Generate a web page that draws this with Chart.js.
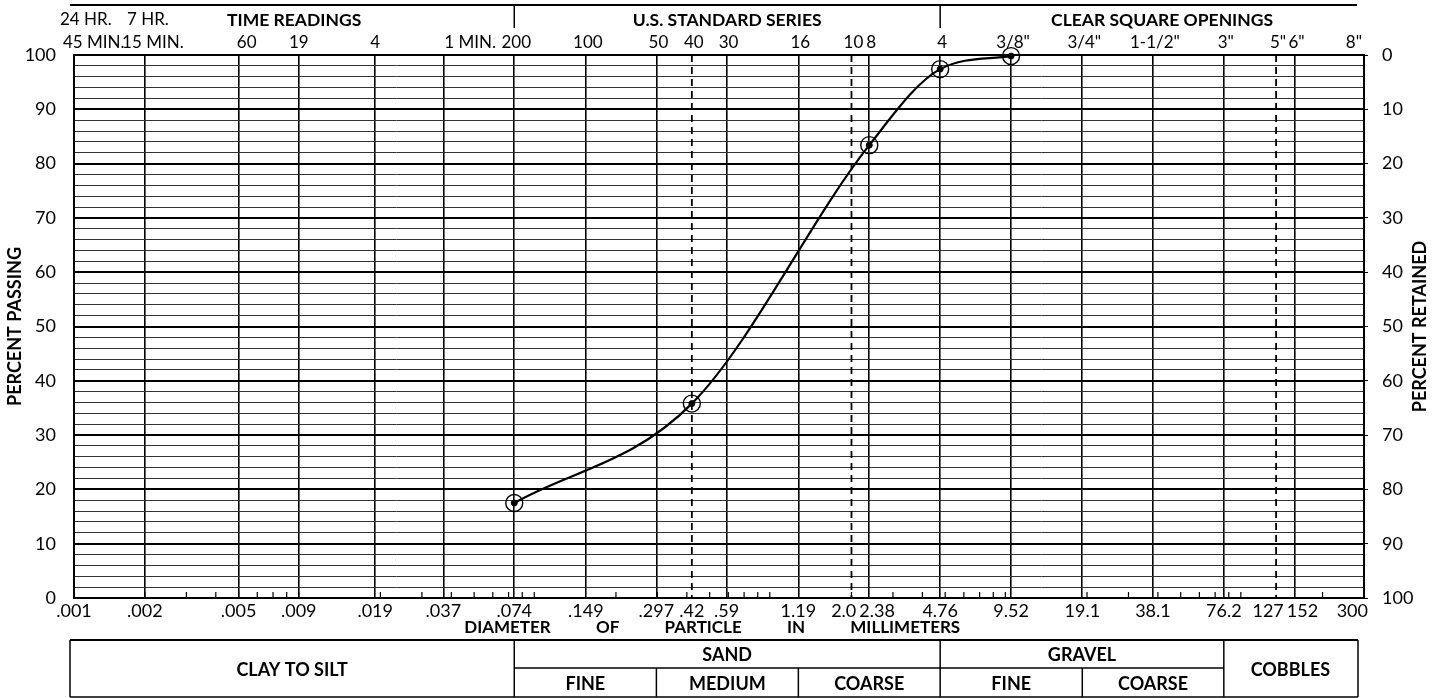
<!DOCTYPE html>
<html lang="en">
<head>
<meta charset="UTF-8">
<title>Grain Size Distribution</title>
<script src="https://cdn.jsdelivr.net/npm/chart.js"></script>
<style>
  html, body { margin: 0; padding: 0; background: #fff; }
  #wrap { width: 1440px; height: 698px; }
</style>
</head>
<body>
<div id="wrap"><canvas id="gradChart"></canvas></div>
<script>
  // bottom axis: sieve openings in mm and how they are printed
  const sieveSizes  = [.001, .002, .005, .009, .019, .037, .074, .149, .297, .42, .59, 1.19, 2.0, 2.38, 4.76, 9.52, 19.1, 38.1, 76.2, 127, 152, 300];
  const sieveLabels = ['.001', '.002', '.005', '.009', '.019', '.037', '.074', '.149', '.297', '.42', '.59', '1.19', '2.0', '2.38', '4.76', '9.52', '19.1', '38.1', '76.2', '127', '152', '300'];
  const dashedSizes = [.42, 2.0, 127];

  // top axis: hydrometer time readings, US sieve numbers, square openings
  const timeSizes    = [.001, .002, .005, .009, .019, .037];
  const timeLabelsHr = ['24 HR.', '7 HR.'];
  const timeLabels   = ['45 MIN.', '15 MIN.', '60', '19', '4', '1 MIN.'];
  const sieveNoSizes  = [.074, .149, .297, .42, .59, 1.19, 2.0, 2.38, 4.76, 9.52, 19.1, 38.1, 76.2, 127, 152, 300];
  const sieveNoLabels = ['200', '100', '50', '40', '30', '16', '10', '8', '4', '3/8"', '3/4"', '1-1/2"', '3"', '5"', '6"', '8"'];

  // soil classes along the bottom (mm bounds)
  const soilBounds = [.074, .297, 1.19, 4.76, 19.1, 76.2];

  // test result
  const grainSize  = [.074, .42, 2.38, 4.76, 9.52];
  const pctPassing = [17.5, 35.8, 83.4, 97.4, 99.8];

  const FONT = 'Lato, "Open Sans", sans-serif';

  const minorTicks = [];
  for (let e = -3; e <= 2; e++) {
    for (let m = 2; m <= 9; m++) {
      const v = m * Math.pow(10, e);
      if (v < 300) minorTicks.push(v);
    }
  }

  function hline(ctx, x1, x2, y) { ctx.beginPath(); ctx.moveTo(x1, y); ctx.lineTo(x2, y); ctx.stroke(); }
  function vline(ctx, x, y1, y2) { ctx.beginPath(); ctx.moveTo(x, y1); ctx.lineTo(x, y2); ctx.stroke(); }
  function text(ctx, s, x, y, align) { ctx.textAlign = align || 'center'; ctx.fillText(s, x, y); }

  const paper = {
    id: 'paper',
    beforeDatasetsDraw(chart) {
      const { ctx, chartArea: a, scales: { x } } = chart;
      ctx.save();
      ctx.strokeStyle = '#000';
      ctx.lineWidth = 1.8;
      ctx.setLineDash([7, 5]);
      dashedSizes.forEach(v => vline(ctx, x.getPixelForValue(v), a.top, a.bottom));
      ctx.setLineDash([]);
      ctx.lineWidth = 1.2;
      minorTicks.forEach(v => {
        const p = x.getPixelForValue(v);
        vline(ctx, p, a.bottom, a.bottom - 6);
      });
      ctx.restore();
    },
    afterDraw(chart) {
      const { ctx, chartArea: a, scales: { x } } = chart;
      const px = v => x.getPixelForValue(v);
      ctx.save();
      ctx.strokeStyle = '#000';
      ctx.fillStyle = '#000';
      ctx.textBaseline = 'middle';

      // frame
      ctx.lineWidth = 2;
      ctx.strokeRect(a.left, a.top, a.right - a.left, a.bottom - a.top);

      // bottom tick labels, nudged apart where they crowd
      ctx.font = '18px ' + FONT;
      const items = sieveSizes.map((v, i) => ({ s: sieveLabels[i], c: px(v), w: ctx.measureText(sieveLabels[i]).width }));
      for (let i = 1; i < items.length; i++) {
        const p = items[i - 1], q = items[i];
        const gap = (q.c - q.w / 2) - (p.c + p.w / 2) - 3;
        if (gap < 0) { p.c += gap / 2; q.c -= gap / 2; }
      }
      const last = items[items.length - 1];
      last.c = Math.min(last.c, a.right + 4 - last.w / 2);
      items.forEach(it => text(ctx, it.s, it.c, a.bottom + 13));

      // axis caption, spread out under the sand range
      ctx.font = 'bold 17px ' + FONT;
      const words = ['DIAMETER', 'OF', 'PARTICLE', 'IN', 'MILLIMETERS'];
      const wl = px(.074) - 50, wr = px(4.76) + 20;
      const widths = words.map(w => ctx.measureText(w).width);
      const gapW = (wr - wl - widths.reduce((s, w) => s + w, 0)) / (words.length - 1);
      let cx = wl;
      words.forEach((w, i) => { text(ctx, w, cx, a.bottom + 30, 'left'); cx += widths[i] + gapW; });

      // side titles
      ctx.font = 'bold 18px ' + FONT;
      const midY = (a.top + a.bottom) / 2;
      [[15, 'PERCENT PASSING'], [1420, 'PERCENT RETAINED']].forEach(([tx, s]) => {
        ctx.save();
        ctx.translate(tx, midY);
        ctx.rotate(-Math.PI / 2);
        text(ctx, s, 0, 0);
        ctx.restore();
      });

      // header
      const L = a.left - 4, R = a.right - 7;
      ctx.lineWidth = 2;
      hline(ctx, L, R, 5);
      ctx.lineWidth = 1.5;
      vline(ctx, px(.074), 5, 28);
      vline(ctx, px(4.76), 5, 28);
      ctx.font = 'bold 17.5px ' + FONT;
      text(ctx, 'TIME READINGS', (a.left + px(.074)) / 2, 20);
      text(ctx, 'U.S. STANDARD SERIES', (px(.074) + px(4.76)) / 2, 20);
      text(ctx, 'CLEAR SQUARE OPENINGS', (px(4.76) + a.right) / 2 + 10, 20);

      ctx.font = '17px ' + FONT;
      text(ctx, timeLabelsHr[0], a.left - 14, 20, 'left');
      text(ctx, timeLabelsHr[1], px(timeSizes[1]) + 3, 20);
      timeLabels.forEach((s, i) => {
        const p = px(timeSizes[i]);
        if (i === 0) text(ctx, s, p - 11, 43, 'left');
        else if (i === 1) text(ctx, s, p + 8, 43);
        else if (i === timeLabels.length - 1) text(ctx, s, p + 1, 43, 'left');
        else text(ctx, s, p + (i === 2 ? 8 : 0), 43);
      });
      sieveNoLabels.forEach((s, i) => {
        const p = px(sieveNoSizes[i]);
        if (i === sieveNoLabels.length - 1) text(ctx, s, p - 2, 43, 'right');
        else text(ctx, s, p + 2, 43);
      });

      // soil classification table
      const T = 640, M = 668, B = 697;
      const b = soilBounds.map(px);
      ctx.lineWidth = 2;
      hline(ctx, L, R + 1, T);
      ctx.lineWidth = 1.5;
      hline(ctx, L, R + 1, B);
      hline(ctx, b[0], b[5], M);
      vline(ctx, L, T, B);
      vline(ctx, R + 1, T, B);
      [b[0], b[3], b[5]].forEach(xx => vline(ctx, xx, T, B));
      [b[1], b[2], b[4]].forEach(xx => vline(ctx, xx, M, B));

      ctx.font = 'bold 18px ' + FONT;
      const rowA = (T + M) / 2 + 1, rowB = (M + B) / 2 + 2, full = (T + B) / 2 + 2;
      text(ctx, 'CLAY TO SILT', (L + b[0]) / 2, full);
      text(ctx, 'SAND', (b[0] + b[3]) / 2, rowA);
      text(ctx, 'GRAVEL', (b[3] + b[5]) / 2, rowA);
      text(ctx, 'COBBLES', (b[5] + R) / 2, full);
      text(ctx, 'FINE', (b[0] + b[1]) / 2, rowB);
      text(ctx, 'MEDIUM', (b[1] + b[2]) / 2, rowB);
      text(ctx, 'COARSE', (b[2] + b[3]) / 2, rowB);
      text(ctx, 'FINE', (b[3] + b[4]) / 2, rowB);
      text(ctx, 'COARSE', (b[4] + b[5]) / 2, rowB);

      ctx.restore();
    }
  };

  const points = grainSize.map((g, i) => ({ x: g, y: pctPassing[i] }));

  new Chart(document.getElementById('gradChart'), {
    type: 'scatter',
    data: {
      datasets: [{
        data: points,
        showLine: true,
        borderColor: '#000',
        borderWidth: 2.2,
        cubicInterpolationMode: 'monotone',
        pointStyle: 'circle',
        pointRadius: 8.5,
        pointBorderWidth: 1.4,
        pointBorderColor: '#000',
        pointBackgroundColor: 'rgba(0,0,0,0)',
        clip: false
      }, {
        data: points,
        showLine: false,
        pointRadius: 3,
        pointBackgroundColor: '#000',
        pointBorderColor: '#000',
        clip: false
      }]
    },
    plugins: [paper],
    options: {
      responsive: true,
      maintainAspectRatio: false,
      animation: false,
      layout: { padding: { top: 55, left: 0, right: 0, bottom: 0 } },
      plugins: { legend: { display: false }, tooltip: { enabled: false } },
      scales: {
        x: {
          type: 'logarithmic',
          min: .001,
          max: 300,
          afterBuildTicks: axis => { axis.ticks = sieveSizes.map(v => ({ value: v })); },
          afterFit: axis => { axis.height = 100; },
          ticks: { display: false, autoSkip: false },
          border: { display: false },
          grid: {
            drawTicks: false,
            lineWidth: 1.6,
            color: c => (c.tick && dashedSizes.includes(c.tick.value)) ? 'rgba(0,0,0,0)' : '#000'
          }
        },
        y: {
          position: 'left',
          min: 0,
          max: 100,
          afterFit: axis => { axis.width = 74; },
          ticks: {
            stepSize: 2,
            autoSkip: false,
            padding: 18,
            color: '#000',
            font: { family: FONT, size: 18 },
            callback: v => (v % 10 === 0 ? v : '')
          },
          border: { display: false },
          grid: {
            drawTicks: false,
            color: c => (c.tick && c.tick.value % 10 === 0) ? '#000' : '#333',
            lineWidth: c => (c.tick && c.tick.value % 10 === 0) ? 2 : 1
          }
        },
        y2: {
          position: 'right',
          reverse: true,
          min: 0,
          max: 100,
          afterFit: axis => { axis.width = 76; },
          ticks: {
            stepSize: 10,
            autoSkip: false,
            padding: 14,
            color: '#000',
            font: { family: FONT, size: 18 }
          },
          border: { display: false },
          grid: { drawOnChartArea: false, drawTicks: true, tickLength: 4, tickColor: '#000' }
        }
      }
    }
  });
</script>
</body>
</html>
